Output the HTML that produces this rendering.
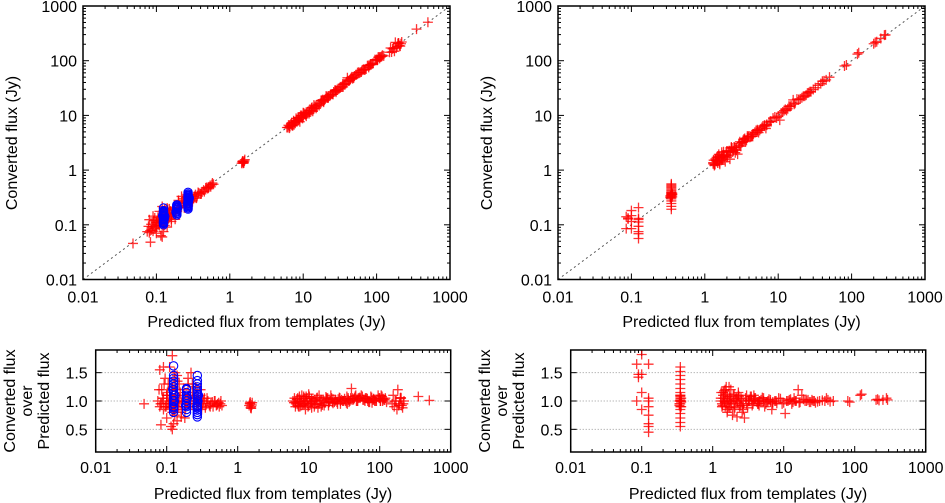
<!DOCTYPE html>
<html><head><meta charset="utf-8"><style>
html,body{margin:0;padding:0;background:#fff;}
svg{display:block;font-family:"Liberation Sans",sans-serif;}
</style></head><body>
<svg id="c" width="945" height="503" viewBox="0 0 945 503"></svg>
<script>
// ---- data: left panel (red + markers) ----
const leftPredA = [0.048,0.083,0.075,0.08,0.08,0.085,0.09,0.09,0.095,0.1,0.1,0.1,0.105,0.11,0.11,0.115,0.12,0.12,0.125,0.125,0.13,0.13,0.135,0.14,0.14,0.15,0.15,0.16,0.16,0.17,0.18,0.2,0.21,0.22,0.22,0.23,0.24,0.25,0.26,0.28,0.3,0.3,0.32,0.33,0.35,0.37,0.4,0.42,0.45,0.48,0.5,0.52,0.55,0.58,0.12,0.12,0.125,0.13,0.09,0.1,0.11,0.14,0.085,0.095,0.105,0.115,0.13,0.145,
1.45,1.5,1.55,1.6,1.52,1.58,1.48,
6,6.5,7,7,7.5,8,8,8.5,9,9,9.5,10,10,11,11,12,12,13,14,14,15,16,17,18,19,20,21,22,24,25,27,28,30,32,34,36,38,40,42,45,48,50,55,60,65,70,75,80,90,100,105,110,115,120,150,160,170,180,190,200,210,220,7.2,8.8,10.5,13.5,18.5,23,26,33,44,52,85,95,175,195,205,6.2,6.8,7.8,9.2,10.8,12.5,15.5,17.5,21.5,29,35,41,58,68,78,112,
350,500];
const leftRatioA = [0.95,0.58,1.0,1.55,0.9,1.2,0.85,1.05,1.4,0.95,0.7,1.1,1.3,0.88,1.6,0.55,1.8,0.5,0.6,1.0,1.5,0.75,1.2,0.9,0.65,1.05,1.3,0.95,0.8,1.1,0.9,1.3,1.0,1.5,0.95,1.15,0.85,1.05,1.0,0.9,1.2,1.1,0.95,1.0,0.88,1.05,0.92,0.95,0.9,1.0,0.92,0.95,0.9,1.0,1.2,0.8,0.85,1.4,1.6,1.1,1.0,0.85,0.95,0.9,0.95,1.0,0.92,0.98,
0.92,0.95,0.9,0.97,0.88,0.93,0.96,
1.0,0.98,0.95,1.05,0.9,1.0,1.1,0.95,0.85,1.0,1.05,0.92,1.12,0.98,0.88,1.02,0.9,1.05,0.95,1.1,0.9,1.0,0.97,1.03,0.92,1.0,1.05,0.96,1.02,0.98,1.06,0.95,1.0,1.04,0.97,1.05,1.0,1.22,1.02,1.08,1.0,1.05,1.1,1.02,1.05,0.98,1.08,1.02,1.0,1.05,1.1,1.0,1.02,1.05,0.95,0.9,1.0,1.2,0.95,1.05,0.88,1.0,0.9,0.95,1.0,0.88,1.05,0.98,1.03,1.0,1.05,1.06,1.0,1.1,0.85,1.05,0.92,0.97,1.03,0.92,1.08,0.95,1.0,0.93,1.07,0.98,1.02,0.95,1.05,1.02,1.0,0.97,1.04,
1.08,1.01];
const leftPredB = [0.078,0.082,0.088,0.092,0.098,0.102,0.108,0.112,0.118,0.122,0.128,0.132,0.138,0.142,0.148,0.155,0.165,0.175,0.185,0.195,0.205,0.215,0.235,0.245,0.255,0.265,0.275,0.29,0.31,0.34,0.36,0.38,0.41,0.44,0.47,0.51,0.54,0.57,0.6,0.2,0.23,0.27,0.31,0.18,0.16,0.14,
6.3,6.6,7.1,7.4,7.7,8.2,8.6,9.4,9.8,10.2,11.5,12.2,13.2,14.5,16.5,17.8,19.5,20.5,23.5,25.5,27.5,31,34.5,37,39,43,46,49,53,57,62,67,72,77,83,88,98,103,108,118,125,155,165,185,198,215,
6.5,7.5,8.5,9.5,11,13,15,19,22,28,36,47,63,82,102,
1.5,1.55];
const leftRatioB = [1.2,0.95,1.05,1.3,0.9,1.15,1.0,1.1,0.95,1.25,0.85,1.1,1.0,1.35,0.9,1.15,1.0,1.2,0.9,1.05,1.1,0.95,1.05,0.9,1.25,0.95,1.1,1.0,0.9,1.05,0.95,1.0,0.9,0.98,1.0,0.93,0.97,0.95,0.92,1.4,1.3,1.0,0.85,0.7,0.72,1.45,
1.05,0.95,0.92,1.08,0.98,0.94,1.05,1.0,0.9,1.08,1.0,0.94,1.06,1.0,0.92,1.05,0.98,1.1,1.0,0.95,1.05,1.0,1.08,0.98,1.05,1.03,1.1,1.0,1.05,1.08,1.0,1.04,0.98,1.06,1.02,1.0,1.05,1.0,1.08,1.02,0.98,1.1,1.0,0.92,1.06,0.95,
0.9,1.0,1.08,0.96,1.04,0.95,1.02,0.97,1.03,1.0,1.02,1.0,1.05,1.04,1.0,
0.98,0.87];
// ---- data: left panel (blue circles) ----
const bluePred = [0.125,0.125,0.125,0.125,0.125,0.125,0.125,0.125,0.125,0.125,0.125,0.125,0.125,0.125,0.125,0.125,0.128,0.122,0.13,
0.19,0.19,0.19,0.19,0.19,0.19,0.19,0.19,0.19,0.19,0.185,0.195,
0.27,0.27,0.27,0.27,0.27,0.27,0.27,0.27,0.27,0.27,0.27,0.27,0.27,0.27,0.27,0.27,0.27,0.265,0.275,0.28];
const blueRatio = [0.8,0.85,0.9,0.95,1.0,1.05,1.1,1.15,1.2,1.25,1.3,1.35,1.4,1.45,1.62,0.88,1.0,1.2,1.1,
0.8,0.85,0.9,0.95,1.0,1.05,1.1,1.15,1.2,1.22,0.92,1.05,
0.72,0.76,0.8,0.84,0.88,0.92,0.96,1.0,1.04,1.08,1.12,1.16,1.2,1.25,1.3,1.36,1.45,0.9,1.0,1.1];
// ---- data: right panel ----
const rightPredA = [0.085,0.085,0.09,0.09,0.1,0.1,0.1,0.1,0.125,0.125,0.125,0.125,0.125,0.125,0.125,0.125,
0.35,0.35,0.35,0.35,0.35,0.35,0.35,0.35,0.35,0.35,0.35,0.35,0.35,0.35,0.35,0.35,0.35,0.35,
1.3,1.35,1.4,1.45,1.5,1.5,1.6,1.6,1.7,1.7,1.8,1.9,2.0,2.0,2.1,2.2,2.3,2.4,2.5,2.6,2.8,3.0,3.0,3.2,3.4,3.6,3.8,4.0,4.3,4.6,5.0,5.4,5.8,6.2,6.8,7.5,8,9,10,10.5,11,12,13,14,15,16,17,18,20,22,24,26,28,38,40,42,45,50,1.4,1.55,1.75,2.2,2.6,3.5,4.5,7,
80,85,120,125,200,210,220,250,280,290];
const rightRatioA = [1.65,1.0,1.47,1.42,1.82,1.47,1.15,0.85,1.65,1.05,0.75,0.6,0.55,0.45,1.0,0.9,
0.55,0.62,0.7,0.78,0.85,0.9,0.95,1.0,1.05,1.1,1.15,1.22,1.3,1.38,1.45,1.52,1.6,1.0,
1.05,0.95,1.1,1.0,1.2,0.9,1.08,0.85,1.25,0.98,1.05,0.75,1.12,0.95,1.02,0.72,1.15,0.9,1.05,0.8,0.7,1.1,0.95,1.0,1.08,0.92,1.02,1.05,0.95,1.0,1.06,0.9,0.98,1.03,0.85,1.0,0.96,1.04,0.97,0.78,1.0,1.02,0.95,1.05,1.0,1.2,0.98,1.1,1.0,1.02,0.98,1.0,0.97,1.0,1.05,1.02,0.99,1.0,1.15,1.25,0.88,1.0,0.92,1.08,1.0,0.95,
1.0,0.98,1.1,1.12,1.02,1.03,1.01,1.02,1.05,1.02];
const rightPredB = [0.34,0.36,0.35,0.36,0.34,0.35,0.36,0.35,0.34,0.36,
1.3,1.32,1.38,1.42,1.48,1.52,1.58,1.62,1.68,1.72,1.78,1.85,1.95,2.05,2.15,2.25,2.35,2.45,2.55,2.7,2.9,3.1,3.3,3.5,3.7,3.9,4.2,4.5,4.8,5.2,5.6,6,6.5,7,7.8,8.5,9.5,11.5,12.5,13.5,14.5,16.5,19,21,23,25,27,30,32,35,
1.35,1.45,1.6,1.8,2.0,2.3,2.7,3.2,3.8,4.4,5.2,6.5];
const rightRatioB = [0.95,1.05,1.1,0.9,1.0,1.02,0.98,1.08,0.92,1.0,
1.0,1.15,0.92,1.05,0.98,1.12,0.95,1.02,0.9,1.08,1.0,0.95,1.1,0.88,1.05,0.98,1.08,0.92,1.02,0.95,1.05,0.88,1.0,1.02,0.95,1.05,0.98,0.92,1.02,1.05,0.95,1.0,1.02,0.98,1.0,1.05,0.95,1.0,1.03,0.98,1.0,0.97,1.03,1.0,0.98,1.02,1.0,0.99,1.0,1.01,
0.9,1.18,0.8,1.2,0.85,1.1,0.85,1.0,1.1,0.95,1.0,0.98];
const leftPred = leftPredA.concat(leftPredB);
const leftRatio = leftRatioA.concat(leftRatioB);
const rightPred = rightPredA.concat(rightPredB);
const rightRatio = rightRatioA.concat(rightRatioB);
const xTicks=[0.01,0.1,1,10,100,1000];
const xTickLabels=["0.01","0.1","1","10","100","1000"];
const yTicks=[0.01,0.1,1,10,100,1000];
const yTickLabels=["0.01","0.1","1","10","100","1000"];
const rTicks=[0.5,1.0,1.5];
const rTickLabels=["0.5","1.0","1.5"];

const NS="http://www.w3.org/2000/svg";
const svg=document.getElementById('c');
function mk(tag,attrs,parent){const e=document.createElementNS(NS,tag);for(const k in attrs)e.setAttribute(k,attrs[k]);(parent||svg).appendChild(e);return e;}
function logScale(lo,hi,p0,p1){return v=>p0+(Math.log10(v)-Math.log10(lo))/(Math.log10(hi)-Math.log10(lo))*(p1-p0);}
function linScale(lo,hi,p0,p1){return v=>p0+(v-lo)/(hi-lo)*(p1-p0);}

function plus(g,x,y,col){const p=mk('path',{d:`M${x-5},${y}h10M${x},${y-5}v10`,stroke:col,'stroke-width':1.3,'stroke-opacity':0.8,fill:'none'},g);

}
function circ(g,x,y){const c=mk('circle',{cx:x,cy:y,r:4.2,stroke:'#0000ff','stroke-width':1.1,fill:'none'},g);

}

function text(g,x,y,s,anchor,name,extra){const t=mk('text',Object.assign({x:x,y:y,'font-size':16,'text-anchor':anchor,fill:'#000'},extra||{}),g);t.textContent=s;

return t;}

function logXTicks(g,sx,top,bot){
  for(let d=-2;d<3;d++){for(let m=2;m<10;m++){const x=sx(m*Math.pow(10,d));
    mk('line',{x1:x,y1:bot,x2:x,y2:bot-3,stroke:'#000'},g);mk('line',{x1:x,y1:top,x2:x,y2:top+3,stroke:'#000'},g);}}
  xTicks.forEach((v,i)=>{const x=sx(v);mk('line',{x1:x,y1:bot,x2:x,y2:bot-6,stroke:'#000'},g);mk('line',{x1:x,y1:top,x2:x,y2:top+6,stroke:'#000'},g);});
}

function topPanel(ox,xs,ys,name){
  const L=ox+83,R=ox+450,T=6,B=279.5;
  const g=mk('g',{});
  
  
  const sx=logScale(0.01,1000,L,R), sy=logScale(0.01,1000,B,T);
  mk('line',{x1:sx(0.01),y1:sy(0.01),x2:sx(1000),y2:sy(1000),stroke:'#555','stroke-width':1,'stroke-dasharray':'2,3'},g);
  logXTicks(g,sx,T,B);
  for(let d=-2;d<3;d++){for(let m=2;m<10;m++){const y=sy(m*Math.pow(10,d));
    mk('line',{x1:L,y1:y,x2:L+3,y2:y,stroke:'#000'},g);mk('line',{x1:R,y1:y,x2:R-3,y2:y,stroke:'#000'},g);}}
  yTicks.forEach((v,i)=>{const y=sy(v);mk('line',{x1:L,y1:y,x2:L+6,y2:y,stroke:'#000'},g);mk('line',{x1:R,y1:y,x2:R-6,y2:y,stroke:'#000'},g);
    text(g,L-6,y+6,yTickLabels[i],'end','y-tick-label');});
  xTicks.forEach((v,i)=>text(g,sx(v),B+23,xTickLabels[i],'middle','x-tick-label'));
  const n=Math.min(xs.length,ys.length);
  for(let i=0;i<n;i++)plus(g,sx(xs[i]),sy(xs[i]*ys[i]),'#ff0000');
  if(ox===0){const m=Math.min(bluePred.length,blueRatio.length);for(let i=0;i<m;i++)circ(g,sx(bluePred[i]),sy(bluePred[i]*blueRatio[i]));}
  mk('rect',{x:L,y:T,width:R-L,height:B-T,fill:'none',stroke:'#000','stroke-width':1.5},g);
  text(g,(L+R)/2,327,'Predicted flux from templates (Jy)','middle','x-axis-title');
  text(g,ox+17,143,'Converted flux (Jy)','middle','y-axis-title',{transform:`rotate(-90 ${ox+17} 143)`});
}

function botPanel(ox,xs,ys,name){
  const L=ox+95.7,R=ox+450.7,T=350,B=452;
  const g=mk('g',{});
  
  
  const sx=logScale(0.01,1000,L,R), sy=linScale(0.1,1.9,B,T);
  rTicks.forEach((v,i)=>{const y=sy(v);mk('line',{x1:L,y1:y,x2:R,y2:y,stroke:'#999','stroke-dasharray':'1,2'},g);
    mk('line',{x1:L,y1:y,x2:L+6,y2:y,stroke:'#000'},g);mk('line',{x1:R,y1:y,x2:R-6,y2:y,stroke:'#000'},g);
    text(g,L-8,y+6,rTickLabels[i],'end','y-tick-label');});
  logXTicks(g,sx,T,B);
  xTicks.forEach((v,i)=>text(g,sx(v),B+21,xTickLabels[i],'middle','x-tick-label'));
  const n=Math.min(xs.length,ys.length);
  for(let i=0;i<n;i++)plus(g,sx(xs[i]),sy(ys[i]),'#ff0000');
  if(ox===0){const m=Math.min(bluePred.length,blueRatio.length);for(let i=0;i<m;i++)circ(g,sx(bluePred[i]),sy(blueRatio[i]));}
  mk('rect',{x:L,y:T,width:R-L,height:B-T,fill:'none',stroke:'#000','stroke-width':1.5},g);
  text(g,ox+273,499,'Predicted flux from templates (Jy)','middle','x-axis-title');
  [['Converted flux',10],['over',27],['Predicted flux',44]].forEach(([s,dx])=>{
    text(g,ox+dx+5,401,s,'middle','y-axis-title',{transform:`rotate(-90 ${ox+dx+5} 401)`});});
}

topPanel(0,leftPred,leftRatio,'left-scatter-panel');
topPanel(475,rightPred,rightRatio,'right-scatter-panel');
botPanel(0,leftPred,leftRatio,'left-ratio-panel');
botPanel(475,rightPred,rightRatio,'right-ratio-panel');
</script>
</body></html>
